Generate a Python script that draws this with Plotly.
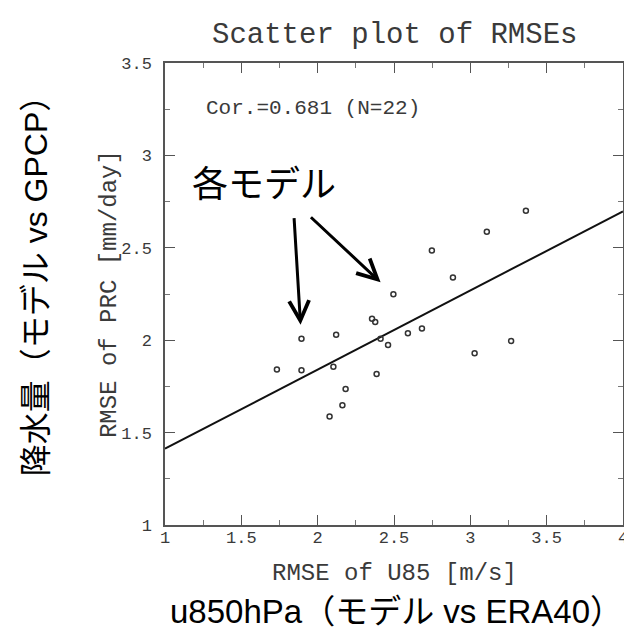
import plotly.graph_objects as go

# Data
rmse_u85 = [1.733, 1.894, 1.894, 2.121, 2.103, 2.183, 2.162, 2.078, 2.356, 2.377, 2.412,
            2.461, 2.386, 2.496, 2.591, 2.683, 2.748, 2.886, 3.028, 3.108, 3.267, 3.364]
rmse_prc = [1.841, 2.008, 1.837, 2.030, 1.856, 1.736, 1.648, 1.587, 2.116, 2.098, 2.008,
            1.974, 1.817, 2.248, 2.037, 2.063, 2.486, 2.339, 1.929, 2.587, 1.996, 2.701]
fit_x = [1.0, 4.0]
fit_y = [1.413, 2.697]

x_ticks = [1, 1.5, 2, 2.5, 3, 3.5, 4]
x_ticklabels = ["1", "1.5", "2", "2.5", "3", "3.5", "4"]
y_ticks = [1, 1.5, 2, 2.5, 3, 3.5]
y_ticklabels = ["1", "1.5", "2", "2.5", "3", "3.5"]

title_text = "Scatter plot of RMSEs"
xtitle_text = "RMSE of U85 [m/s]"
ytitle_text = "RMSE of PRC [mm/day]"
cor_text = "Cor.=0.681 (N=22)"
models_text = "各モデル"
left_label = "降水量（モデル vs GPCP）"
bottom_label = "u850hPa（モデル vs ERA40）"

# arrows: (tail_x, tail_y, head_x, head_y) in data units
arrows = [(1.845, 2.669, 1.888, 2.083), (1.946, 2.673, 2.412, 2.313)]

mono = "Liberation Mono, Courier New, monospace"
jp = "Liberation Sans, Noto Sans CJK JP, sans-serif"
gray = "#3a3a3a"

fig = go.Figure()
fig.add_trace(go.Scatter(x=fit_x, y=fit_y, mode="lines",
                         line=dict(color="#111111", width=2), hoverinfo="skip"))
fig.add_trace(go.Scatter(x=rmse_u85, y=rmse_prc, mode="markers",
                         marker=dict(symbol="circle-open", size=5, color="#333333",
                                     line=dict(color="#333333", width=1.5))))

axis_common = dict(showgrid=False, zeroline=False, showline=True, linecolor="#555555",
                   linewidth=1.5, mirror="ticks", ticks="inside", ticklen=10,
                   tickwidth=1.3, tickcolor="#555555",
                   tickfont=dict(family=mono, size=17, color=gray),
                   minor=dict(ticks="inside", ticklen=5, tickwidth=1, tickcolor="#777777",
                              dtick=0.25))

fig.update_xaxes(range=[1, 4], tickvals=x_ticks, ticktext=x_ticklabels,
                 ticklabelstandoff=-4, **axis_common)
fig.update_yaxes(range=[1, 3.5], tickvals=y_ticks, ticktext=y_ticklabels,
                 ticklabelstandoff=8, **axis_common)

ann = []
ann.append(dict(text=title_text, xref="paper", yref="paper", x=0.5, y=1.06,
                xanchor="center", yanchor="middle", showarrow=False,
                font=dict(family=mono, size=29, color=gray)))
ann.append(dict(text=xtitle_text, xref="paper", yref="paper", x=0.5, y=-0.104,
                xanchor="center", yanchor="middle", showarrow=False,
                font=dict(family=mono, size=24, color=gray)))
ann.append(dict(text=ytitle_text, xref="paper", yref="paper", x=-0.122, y=0.5,
                xanchor="center", yanchor="middle", showarrow=False, textangle=-90,
                font=dict(family=mono, size=24, color=gray)))
ann.append(dict(text=cor_text, xref="x", yref="y", x=1.255, y=3.256,
                xanchor="left", yanchor="middle", showarrow=False,
                font=dict(family=mono, size=21, color=gray)))
ann.append(dict(text=models_text, xref="x", yref="y", x=1.651, y=2.84,
                xanchor="center", yanchor="middle", showarrow=False,
                font=dict(family=jp, size=36, color="black")))
ann.append(dict(text=left_label, xref="paper", yref="paper", x=-0.283, y=0.535,
                xanchor="center", yanchor="middle", showarrow=False, textangle=-90,
                font=dict(family=jp, size=32, color="black")))
ann.append(dict(text=bottom_label, xref="paper", yref="paper", x=0.505, y=-0.188,
                xanchor="center", yanchor="middle", showarrow=False,
                font=dict(family=jp, size=33, color="black")))
for tx, ty, hx, hy in arrows:
    ann.append(dict(x=hx, y=hy, ax=tx, ay=ty, xref="x", yref="y", axref="x", ayref="y",
                    text="", showarrow=True, arrowhead=5, arrowsize=1.3, arrowwidth=3,
                    arrowcolor="black"))

fig.update_layout(width=632, height=635, margin=dict(l=157, r=12, t=55, b=118),
                  paper_bgcolor="white", plot_bgcolor="white", showlegend=False,
                  annotations=ann)

fig.write_html("out.html")
